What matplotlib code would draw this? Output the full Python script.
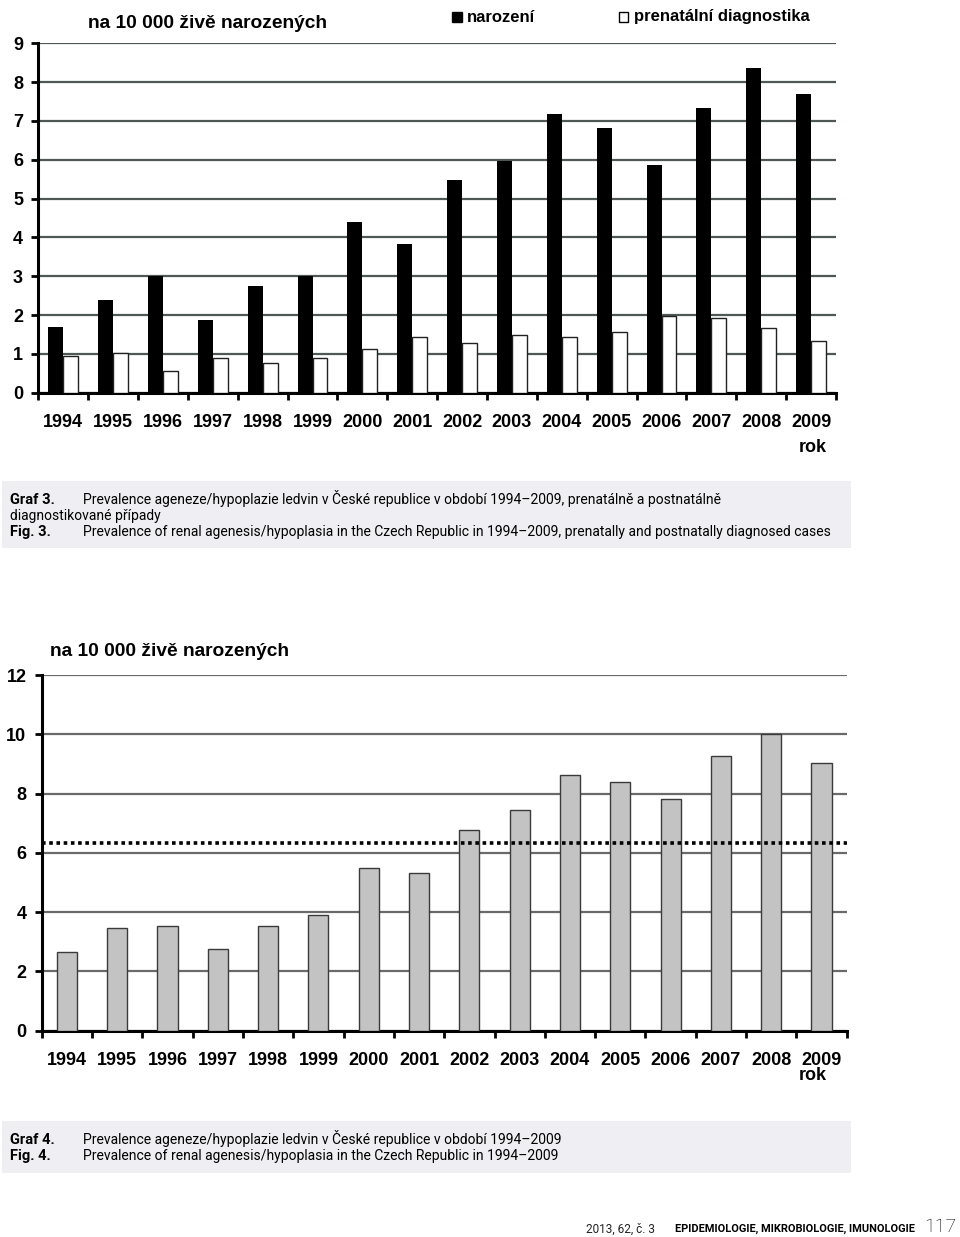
import numpy as np
import matplotlib
matplotlib.use("Agg")
import matplotlib.pyplot as plt
from matplotlib.patches import Rectangle

# Data (per 10 000 live births)
years = ['1994', '1995', '1996', '1997', '1998', '1999', '2000', '2001',
         '2002', '2003', '2004', '2005', '2006', '2007', '2008', '2009']
narozeni = [1.7, 2.4, 3.0, 1.87, 2.75, 3.0, 4.4, 3.84,
            5.48, 5.98, 7.18, 6.83, 5.86, 7.33, 8.37, 7.69]
prenatalni = [0.95, 1.03, 0.56, 0.89, 0.77, 0.89, 1.12, 1.44,
              1.29, 1.49, 1.43, 1.56, 1.97, 1.92, 1.67, 1.33]
celkem = [2.64, 3.45, 3.53, 2.77, 3.53, 3.90, 5.49, 5.31,
          6.77, 7.46, 8.62, 8.39, 7.83, 9.27, 10.02, 9.04]
prumer = 6.34

W, H = 960, 1237
fig = plt.figure(figsize=(W / 100, H / 100), dpi=100)
fig.patch.set_facecolor('white')

bold = dict(family=['Liberation Sans', 'DejaVu Sans'], fontweight='bold')
cap_font = ['Liberation Sans Narrow', 'Roboto', 'DejaVu Sans']


def ax_box(left, right, top, bottom):
    return [left / W, 1 - bottom / H, (right - left) / W, (bottom - top) / H]


def px(x, y):
    return x / W, 1 - y / H


def caption(x, y, s, b=False):
    # y is the baseline in pixels
    fig.text(*px(x, y), s, fontsize=10.5 if b else 10, va='baseline', family=cap_font,
             fontweight='bold' if b else 'normal')


def style_axis(ax, ymax, grid_color):
    ax.set_xlim(-0.5, len(years) - 0.5)
    ax.set_ylim(0, ymax)
    for s in ['top', 'right']:
        ax.spines[s].set_visible(False)
    for s in ['left', 'bottom']:
        ax.spines[s].set_linewidth(2.2)
        ax.spines[s].set_color('black')
    ax.set_axisbelow(True)
    ax.yaxis.grid(True, color=grid_color, linewidth=1.6)
    ax.set_xticks(np.arange(len(years)))
    ax.set_xticklabels(years, fontsize=13, **bold)
    ax.tick_params(axis='x', length=0, pad=15)
    # boundary ticks between categories
    ax.set_xticks(np.arange(-0.5, len(years)), minor=True)
    ax.tick_params(axis='x', which='minor', length=5, width=2, direction='out')
    ax.tick_params(axis='y', length=5, width=2, pad=6)
    for lab in ax.get_yticklabels():
        lab.set_fontsize(13)
        lab.set_fontweight('bold')
        lab.set_family(['Liberation Sans', 'DejaVu Sans'])


# ---- Graf 3 ----
ax1 = fig.add_axes(ax_box(38.3, 836, 43.3, 392.7))
x = np.arange(len(years))
ax1.bar(x - 0.15, narozeni, width=0.3, color='black', zorder=3)
ax1.bar(x + 0.15, prenatalni, width=0.3, color='white', edgecolor='#222222',
        linewidth=1.0, zorder=3)
ax1.set_yticks(range(0, 10))
style_axis(ax1, 9, '#4f5757')

fig.text(*px(88, 23), 'na 10 000 živě narozených', fontsize=13.8, va='center', **bold)
fig.patches.append(Rectangle(px(452, 22), 10 / W, 10 / H, transform=fig.transFigure,
                             facecolor='black', edgecolor='black'))
fig.text(*px(467, 17), 'narození', fontsize=12, va='center', **bold)
fig.patches.append(Rectangle(px(619, 22), 9 / W, 10 / H, transform=fig.transFigure,
                             facecolor='white', edgecolor='black', linewidth=1))
fig.text(*px(634, 17), 'prenatální diagnostika', fontsize=12, va='center', **bold)
fig.text(*px(813, 447), 'rok', fontsize=13, ha='center', va='center', **bold)

# caption 3
fig.patches.append(Rectangle(px(2, 548), 849 / W, 67 / H, transform=fig.transFigure,
                             facecolor='#eeeef3', edgecolor='none'))
caption(10, 504, 'Graf 3.', b=True)
caption(83, 504, 'Prevalence ageneze/hypoplazie ledvin v České republice v období 1994–2009, '
        'prenatálně a postnatálně')
caption(10, 520, 'diagnostikované případy')
caption(10, 536, 'Fig. 3.', b=True)
caption(83, 536, 'Prevalence of renal agenesis/hypoplasia in the Czech Republic in 1994–2009, '
        'prenatally and postnatally diagnosed cases')

# ---- Graf 4 ----
ax2 = fig.add_axes(ax_box(41.7, 846.7, 675, 1030.7))
ax2.bar(x, celkem, width=0.4, color='#c3c3c3', edgecolor='#3a3a3a', linewidth=1.0, zorder=3)
ax2.axhline(prumer, color='black', linestyle=(0, (1, 1)), linewidth=2.6, zorder=4)
ax2.set_yticks(range(0, 13, 2))
style_axis(ax2, 12, '#6a6a6a')

fig.text(*px(50, 651), 'na 10 000 živě narozených', fontsize=13.8, va='center', **bold)
fig.text(*px(813, 1075), 'rok', fontsize=13, ha='center', va='center', **bold)

# caption 4
fig.patches.append(Rectangle(px(2, 1173), 849 / W, 52 / H, transform=fig.transFigure,
                             facecolor='#eeeef3', edgecolor='none'))
caption(10, 1144, 'Graf 4.', b=True)
caption(83, 1144, 'Prevalence ageneze/hypoplazie ledvin v České republice v období 1994–2009')
caption(10, 1160, 'Fig. 4.', b=True)
caption(83, 1160, 'Prevalence of renal agenesis/hypoplasia in the Czech Republic in 1994–2009')

# footer
fig.text(*px(655, 1229), '2013, 62, č. 3', fontsize=8.5, ha='right', va='center',
         family=['Roboto', 'DejaVu Sans'], color='#222222')
fig.text(*px(675, 1229), 'EPIDEMIOLOGIE, MIKROBIOLOGIE, IMUNOLOGIE', fontsize=7.9, va='center',
         family=cap_font, fontweight='bold')
fig.text(*px(956, 1227), '117', fontsize=14, ha='right', va='center',
         family=['Roboto', 'DejaVu Sans'], fontweight='light')

fig.savefig('out.png', dpi=100)
